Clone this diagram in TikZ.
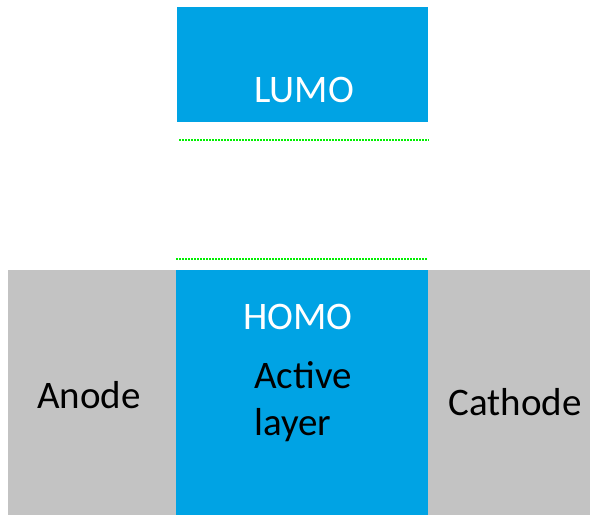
\documentclass[tikz,border=0pt]{standalone}
\usepackage{fontspec}
\setmainfont{Carlito}
\usetikzlibrary{positioning}
\definecolor{layerblue}{RGB}{0,163,228}
\definecolor{electrodegray}{RGB}{195,195,195}
\definecolor{levelgreen}{RGB}{0,240,0}
\tikzset{
  slab/.style = {rectangle, inner sep=0pt, outer sep=0pt, draw=none},
  electrode/.style = {slab, fill=electrodegray},
  organic/.style = {slab, fill=layerblue},
  label/.style = {anchor=base, inner sep=0pt, font=\fontsize{39}{39}\selectfont},
  level/.style = {draw=levelgreen, line width=2.5pt, dash pattern=on 1.7pt off 1.3pt},
}

\begin{document}
\begin{tikzpicture}[x=1pt,y=-1pt]

    \path[use as bounding box] (0,0) rectangle (590,515);

    % electrodes and the active layer
    \node[electrode, minimum width=168pt, minimum height=245pt] (anode) at (92,392.5) {};
    \node[organic, minimum width=252pt, minimum height=245pt] (active) at (302,392.5) {};
    \node[electrode, minimum width=162pt, minimum height=245pt] (cathode) at (509,392.5) {};

    % upper level
    \node[organic, minimum width=251pt, minimum height=115pt] (lumo) at (302.5,64.5) {};

    % dotted levels
    \coordinate (l1) at (179,140);
    \coordinate (r1) at (429,140);
    \coordinate (l2) at (176,259);
    \coordinate (r2) at (427,259);
    \path[level] (l1) -- (r1);
    \path[level] (l2) -- (r2);

    % texts
    \node[label, white] (lumotext) at (304,102) {LUMO};
    \node[label, white] (homotext) at (298,329) {HOMO};
    \node[label, anchor=base west, align=left, font=\fontsize{39}{47}\selectfont] (activetext) at (254,435) {Active\\ layer};
    \node[label] (anodetext) at (89,408) {Anode};
    \node[label] (cathodetext) at (515,415) {Cathode};

\end{tikzpicture}
\end{document}
